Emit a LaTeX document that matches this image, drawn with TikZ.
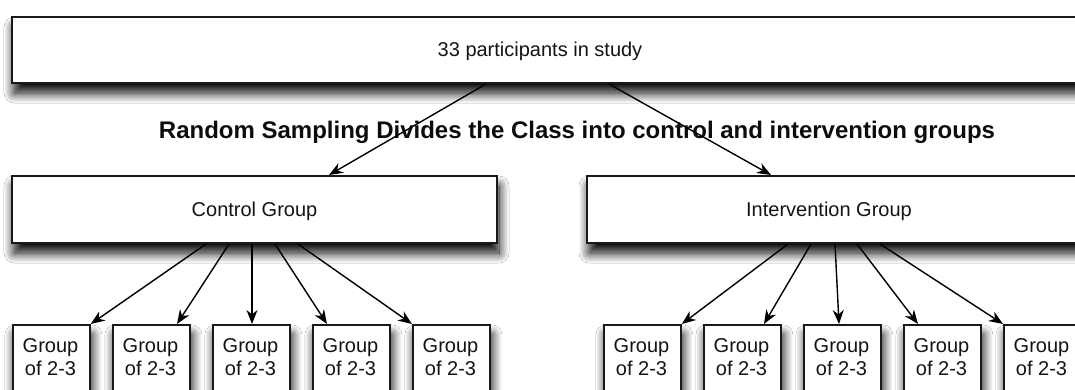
\documentclass[tikz,border=0pt]{standalone}
\usepackage{fontspec}
\setmainfont{Liberation Sans}
\usetikzlibrary{arrows.meta,shadows.blur,calc}

\begin{document}
\begin{tikzpicture}[x=1pt,y=-1pt,
  box/.style={draw=black!90, line width=2pt, fill=white, inner sep=0pt,
    blur shadow={shadow xshift=2pt, shadow yshift=-10pt,
      shadow blur radius=10pt, shadow blur steps=14, shadow opacity=100}},
  bigbox/.style={box, minimum height=66pt},
  gbox/.style={box, line width=1.8pt, anchor=north west,
    minimum width=77pt, minimum height=90pt},
  lbl/.style={font=\fontsize{20}{23}\selectfont, text=black!92, inner sep=0pt},
  title/.style={font=\fontsize{24}{28}\selectfont\bfseries, text=black!95, inner sep=0pt},
  arr/.style={draw=black, line width=1.4pt,
    -{Stealth[length=14pt, width=11pt, inset=4.5pt]}},
]
\useasboundingbox (0,0) rectangle (1075,390);
\fill[white] (0,0) rectangle (1075,390);
\clip (0,0) rectangle (1075,390);

% study population
\node[bigbox, minimum width=1080pt] (top) at (552,50) {};
\node[lbl, anchor=base] (toptxt) at (540,57) {33 participants in study};

% heading between the levels
\node[title, anchor=base] (head) at (577,139)
  {Random Sampling Divides the Class into control and intervention groups};

% the two arms
\node[bigbox, minimum width=485pt, minimum height=67pt, lbl,
  text height=14.3pt, text depth=0pt] (ctrl) at (254.5,209.5) {Control Group};
\node[bigbox, minimum width=500pt, minimum height=67pt] (intv) at (837,209.5) {};
\node[lbl, anchor=base] (intvtxt) at (829,216.7) {Intervention Group};

% small groups of each arm
\foreach \k in {1,...,5} {
  \node[gbox] (c\k) at ({12+100*(\k-1)},324) {};
  \node[lbl, anchor=base] (c\k t) at ($(c\k.north west)+(38.5,28)$)
    {\begin{tabular}[t]{@{}c@{}}Group\\of 2-3\end{tabular}};
  \node[gbox] (i\k) at ({603+100*(\k-1)},324) {};
  \node[lbl, anchor=base] (i\k t) at ($(i\k.north west)+(38.5,28)$)
    {\begin{tabular}[t]{@{}c@{}}Group\\of 2-3\end{tabular}};
}

% random split
\draw[arr] ($(top.south west)+(475,0)$) -- ($(ctrl.north west)+(318,0)$);
\draw[arr] ($(top.south west)+(598,0)$) -- ($(intv.north west)+(185,0)$);

% control arm fan-out
\draw[arr] ($(ctrl.south west)+(195,0)$) -- (c1.north east);
\draw[arr] ($(ctrl.south west)+(218,0)$) -- ($(c2.north west)+(65,0)$);
\draw[arr] ($(ctrl.south west)+(241,0)$) -- ($(c3.north west)+(40,0)$);
\draw[arr] ($(ctrl.south west)+(264,0)$) -- ($(c4.north west)+(15,0)$);
\draw[arr] ($(ctrl.south west)+(287,0)$) -- (c5.north west);

% intervention arm fan-out
\draw[arr] ($(intv.south west)+(202,0)$) -- (i1.north east);
\draw[arr] ($(intv.south west)+(225,0)$) -- ($(i2.north west)+(61,0)$);
\draw[arr] ($(intv.south west)+(249,0)$) -- ($(i3.north west)+(36,0)$);
\draw[arr] ($(intv.south west)+(271,0)$) -- ($(i4.north west)+(15,0)$);
\draw[arr] ($(intv.south west)+(294,0)$) -- (i5.north west);
\end{tikzpicture}
\end{document}
